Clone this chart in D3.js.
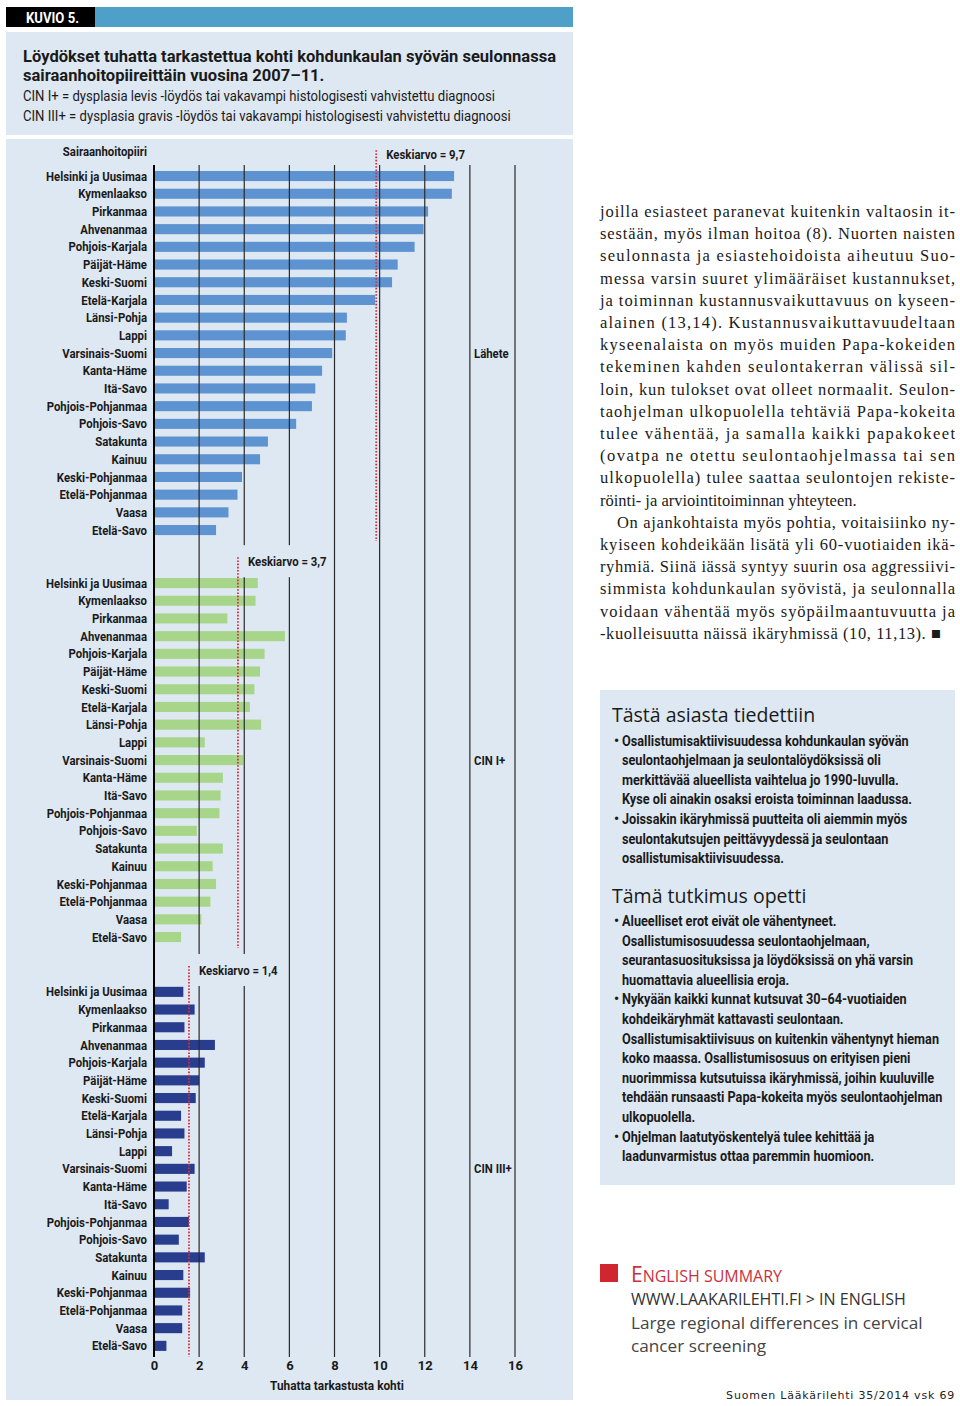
<!DOCTYPE html>
<html><head><meta charset="utf-8">
<script src="https://cdn.jsdelivr.net/npm/d3@7"></script>
<style>
body{margin:0;background:#fff;}
svg{display:block;}
</style></head>
<body>
<svg id="c" width="960" height="1406"></svg>
<script>
// ---------- DATA ----------
const regions = ["Helsinki ja Uusimaa","Kymenlaakso","Pirkanmaa","Ahvenanmaa","Pohjois-Karjala","Päijät-Häme","Keski-Suomi","Etelä-Karjala","Länsi-Pohja","Lappi","Varsinais-Suomi","Kanta-Häme","Itä-Savo","Pohjois-Pohjanmaa","Pohjois-Savo","Satakunta","Kainuu","Keski-Pohjanmaa","Etelä-Pohjanmaa","Vaasa","Etelä-Savo"];
const lahete = [13.3,13.2,12.15,11.95,11.55,10.8,10.55,9.8,8.55,8.5,7.9,7.45,7.15,7.0,6.3,5.05,4.7,3.9,3.7,3.3,2.75];
const cin1   = [4.6,4.5,3.25,5.8,4.9,4.7,4.45,4.25,4.75,2.25,3.95,3.05,2.95,2.9,1.9,3.05,2.6,2.75,2.5,2.1,1.2];
const cin3   = [1.3,1.8,1.35,2.7,2.25,2.0,1.85,1.2,1.35,0.8,1.8,1.45,0.65,1.55,1.1,2.25,1.3,1.6,1.25,1.25,0.55];
const panelNames = ["Lähete","CIN I+","CIN III+"];
const meanLabels = ["Keskiarvo = 9,7","Keskiarvo = 3,7","Keskiarvo = 1,4"];
const meanLine = [9.85,3.72,1.55];
const xTicks = [0,2,4,6,8,10,12,14,16];
const colors = ["#5e93d2","#a7d58a","#283d8e"];

const bodyLines = [
 "joilla esiasteet paranevat kuitenkin valtaosin it-",
 "sestään, myös ilman hoitoa (8). Nuorten naisten",
 "seulonnasta ja esiastehoidoista aiheutuu Suo-",
 "messa varsin suuret ylimääräiset kustannukset,",
 "ja toiminnan kustannusvaikuttavuus on kyseen-",
 "alainen (13,14). Kustannusvaikuttavuudeltaan",
 "kyseenalaista on myös muiden Papa-kokeiden",
 "tekeminen kahden seulontakerran välissä sil-",
 "loin, kun tulokset ovat olleet normaalit. Seulon-",
 "taohjelman ulkopuolella tehtäviä Papa-kokeita",
 "tulee vähentää, ja samalla kaikki papakokeet",
 "(ovatpa ne otettu seulontaohjelmassa tai sen",
 "ulkopuolella) tulee saattaa seulontojen rekiste-",
 "röinti- ja arviointitoiminnan yhteyteen.",
 "On ajankohtaista myös pohtia, voitaisiinko ny-",
 "kyiseen kohdeikään lisätä yli 60-vuotiaiden ikä-",
 "ryhmiä. Siinä iässä syntyy suurin osa aggressiivi-",
 "simmista kohdunkaulan syövistä, ja seulonnalla",
 "voidaan vähentää myös syöpäilmaantuvuutta ja",
 "-kuolleisuutta näissä ikäryhmissä (10, 11,13). ■"
];
const box1Lines = [
 ["•","Osallistumisaktiivisuudessa kohdunkaulan syövän"],
 ["","seulontaohjelmaan ja seulontalöydöksissä oli"],
 ["","merkittävää alueellista vaihtelua jo 1990-luvulla."],
 ["","Kyse oli ainakin osaksi eroista toiminnan laadussa."],
 ["•","Joissakin ikäryhmissä puutteita oli aiemmin myös"],
 ["","seulontakutsujen peittävyydessä ja seulontaan"],
 ["","osallistumisaktiivisuudessa."]
];
const box2Lines = [
 ["•","Alueelliset erot eivät ole vähentyneet."],
 ["","Osallistumisosuudessa seulontaohjelmaan,"],
 ["","seurantasuosituksissa ja löydöksissä on yhä varsin"],
 ["","huomattavia alueellisia eroja."],
 ["•","Nykyään kaikki kunnat kutsuvat 30−64-vuotiaiden"],
 ["","kohdeikäryhmät kattavasti seulontaan."],
 ["","Osallistumisaktiivisuus on kuitenkin vähentynyt hieman"],
 ["","koko maassa. Osallistumisosuus on erityisen pieni"],
 ["","nuorimmissa kutsutuissa ikäryhmissä, joihin kuuluville"],
 ["","tehdään runsaasti Papa-kokeita myös seulontaohjelman"],
 ["","ulkopuolella."],
 ["•","Ohjelman laatutyöskentelyä tulee kehittää ja"],
 ["","laadunvarmistus ottaa paremmin huomioon."]
];

// ---------- DRAW ----------
const COND = "Roboto,'Liberation Sans',sans-serif";
const SANS = "'Open Sans','Noto Sans',sans-serif";
const SERIF = "'Liberation Serif','DejaVu Serif',serif";
const BG = "#dee8f2";
const INK = "#1a1a1a";
const svg = d3.select("#c");

function factorFor(str, size, weight, target){
  const t = svg.append("text").attr("font-family",COND).attr("font-size",size).attr("font-weight",weight).text(str);
  const w = t.node().getComputedTextLength(); t.remove(); return target/w;
}
function squeeze(sel, f){
  sel.each(function(){ const l=this.getComputedTextLength(); d3.select(this).attr("textLength",l*f).attr("lengthAdjust","spacingAndGlyphs"); });
}
const fLab = factorFor("Helsinki ja Uusimaa",13,"bold",101);
const fTitle = factorFor("Löydökset tuhatta tarkastettua kohti kohdunkaulan syövän seulonnassa",17,"bold",533);
const fSub = factorFor("CIN I+ = dysplasia levis -löydös tai vakavampi histologisesti vahvistettu diagnoosi",14,"normal",472);
const fBox = factorFor("Osallistumisaktiivisuus on kuitenkin vähentynyt hieman",14,"bold",317);
const fHead = factorFor("KUVIO 5.",14,"bold",53);

function ctext(parent, x, y, size, weight, str, f){
  const t = parent.append("text").attr("x",x).attr("y",y).attr("font-family",COND).attr("font-size",size).attr("font-weight",weight).attr("fill",INK).text(str);
  squeeze(t,f); return t;
}

// header
svg.append("rect").attr("x",95).attr("y",7).attr("width",478).attr("height",20).attr("fill","#4fa0c8");
svg.append("rect").attr("x",6).attr("y",7).attr("width",89).attr("height",20).attr("fill","#000");
ctext(svg,26,22.5,14,"bold","KUVIO 5.",fHead).attr("fill","#fff");

// title box
svg.append("rect").attr("x",6).attr("y",32).attr("width",567).attr("height",103).attr("fill",BG);
ctext(svg,23,62,17,"bold","Löydökset tuhatta tarkastettua kohti kohdunkaulan syövän seulonnassa",fTitle);
ctext(svg,23,81,17,"bold","sairaanhoitopiireittäin vuosina 2007–11.",fTitle);
ctext(svg,23,101,14,"normal","CIN I+ = dysplasia levis -löydös tai vakavampi histologisesti vahvistettu diagnoosi",fSub);
ctext(svg,23,121,14,"normal","CIN III+ = dysplasia gravis -löydös tai vakavampi histologisesti vahvistettu diagnoosi",fSub);

// chart box
svg.append("rect").attr("x",6).attr("y",139).attr("width",567).attr("height",1261).attr("fill",BG);

const x = d3.scaleLinear().domain([0,16]).range([154,515]);
const gridTop = 165, gridBot = 1357;
const panelTops = [167.2, 574.2, 983];
const step = 17.7;
const series = [lahete, cin1, cin3];

const chart = svg.append("g");
series.forEach((vals,pi)=>{
  const y = d3.scaleBand().domain(regions).range([panelTops[pi], panelTops[pi]+step*regions.length]).paddingInner(0.43).paddingOuter(0.215);
  const g = chart.append("g");
  g.selectAll("rect").data(regions).join("rect")
    .attr("x",x(0)+1).attr("y",d=>y(d)).attr("height",y.bandwidth())
    .attr("width",(d,i)=>x(vals[i])-x(0)-1).attr("fill",colors[pi]);
  const labs = g.selectAll("text.lab").data(regions).join("text").attr("class","lab")
    .attr("x",147).attr("y",d=>y(d)+y.bandwidth()/2+4.6)
    .attr("text-anchor","end").attr("font-family",COND).attr("font-weight","bold").attr("font-size",13).attr("fill",INK)
    .text(d=>d);
  squeeze(labs,fLab);
  ctext(g,474,y("Varsinais-Suomi")+y.bandwidth()/2+4.6,13,"bold",panelNames[pi],fLab);
});

// gridlines (drawn over bars)
chart.append("g").selectAll("line").data(xTicks.slice(1)).join("line")
  .attr("x1",d=>x(d)).attr("x2",d=>x(d)).attr("y1",gridTop).attr("y2",gridBot)
  .attr("stroke","#2a2a2a").attr("stroke-width",1.2);

// mean lines and labels
series.forEach((vals,pi)=>{
  const top = panelTops[pi], len = step*regions.length;
  const mx = x(meanLine[pi]);
  const ly = pi===0 ? 154 : top-13;
  if(pi>0){
    chart.append("rect").attr("x",mx+5).attr("y",ly-16).attr("width",86).attr("height",32).attr("fill",BG);
  }
  chart.append("line").attr("x1",mx).attr("x2",mx).attr("y1",top-17).attr("y2",top+len+2)
    .attr("stroke","#d2323e").attr("stroke-width",1.8).attr("stroke-dasharray","1.6,1.6");
  ctext(chart,mx+10,ly+4.6,13,"bold",meanLabels[pi],fLab);
});

// axis line
chart.append("line").attr("x1",x(0)).attr("x2",x(0)).attr("y1",gridTop).attr("y2",gridBot).attr("stroke","#000").attr("stroke-width",2);

// x axis tick labels
const ax = svg.append("g").attr("transform",`translate(0,${gridBot})`)
  .call(d3.axisBottom(x).tickValues(xTicks).tickSize(0).tickPadding(4).tickFormat(d3.format("d")));
ax.select(".domain").remove();
ax.selectAll("text").attr("font-family",COND).attr("font-weight","bold").attr("font-size",13).attr("fill",INK);
ctext(svg,337,1390,13.5,"bold","Tuhatta tarkastusta kohti",fLab).attr("text-anchor","middle");
ctext(svg,147,155.5,13,"bold","Sairaanhoitopiiri",fLab).attr("text-anchor","end");

// body text
const body = svg.append("g").attr("font-family",SERIF).attr("font-size",16.5).attr("fill",INK);
bodyLines.forEach((t,i)=>{
  const indent = (i===14)?17:0;
  const tx = body.append("text").attr("x",600+indent).attr("y",217+i*22.2).text(t);
  if(i!==13){ tx.attr("textLength", (i===19?341:355)-indent).attr("lengthAdjust","spacing"); }
});

// info box
svg.append("rect").attr("x",600).attr("y",690).attr("width",355).attr("height",495).attr("fill",BG);
svg.append("text").attr("x",612).attr("y",722).attr("font-family",SANS).attr("font-size",19.5).attr("fill",INK).text("Tästä asiasta tiedettiin");
svg.append("text").attr("x",612).attr("y",903).attr("font-family",SANS).attr("font-size",19.5).attr("fill",INK).text("Tämä tutkimus opetti");
function bullets(lines, y0){
  const g = svg.append("g");
  lines.forEach((l,i)=>{
    const yy = y0 + i*19.6;
    if(l[0]) ctext(g,614,yy,14,"bold",l[0],1);
    ctext(g,622,yy,14,"bold",l[1],fBox);
  });
}
bullets(box1Lines, 745.5);
bullets(box2Lines, 926);

// English summary
svg.append("rect").attr("x",600).attr("y",1264).attr("width",18).attr("height",18).attr("fill","#d0262f");
const es = svg.append("text").attr("x",631).attr("y",1282).attr("font-family",SANS).attr("fill","#c8323c");
es.append("tspan").attr("font-size",21).text("E");
es.append("tspan").attr("font-size",16).text("NGLISH SUMMARY");
svg.append("text").attr("x",631).attr("y",1305).attr("font-family",SANS).attr("font-size",16).attr("fill","#333").text("WWW.LAAKARILEHTI.FI > IN ENGLISH");
svg.append("text").attr("x",631).attr("y",1329).attr("font-family",SANS).attr("font-size",17.2).attr("fill","#444").text("Large regional differences in cervical");
svg.append("text").attr("x",631).attr("y",1352).attr("font-family",SANS).attr("font-size",17.2).attr("fill","#444").text("cancer screening");
svg.append("text").attr("x",955).attr("y",1399).attr("text-anchor","end").attr("font-family","'DejaVu Sans',sans-serif").attr("font-size",11).attr("letter-spacing",0.8).attr("fill","#222").text("Suomen Lääkärilehti 35/2014 vsk 69");
</script>
</body></html>
